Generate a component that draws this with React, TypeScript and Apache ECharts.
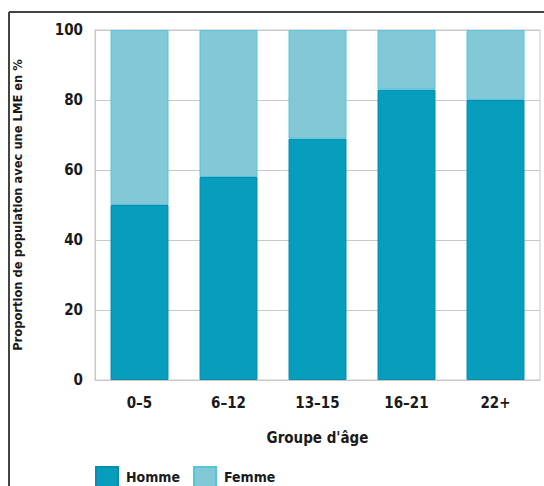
import React, { useEffect, useRef } from "react";
import * as echarts from "echarts";

const categories = ["0–5", "6–12", "13–15", "16–21", "22+"];
const homme = [50, 58, 69, 83, 80];
const femme = [50, 42, 31, 17, 20];
const seriesNames = ["Homme", "Femme"];
const yTicks = [0, 20, 40, 60, 80, 100];

const FONT = "'DejaVu Sans Condensed'";

export default function App() {
  const ref = useRef<HTMLDivElement>(null);
  useEffect(() => {
    document.body.style.margin = "0";
    const chart = echarts.init(ref.current!, null, { renderer: "svg" });
    chart.setOption({
      animation: false,
      backgroundColor: "#ffffff",
      textStyle: { fontFamily: FONT },
      graphic: [
        { type: "line", shape: { x1: 9, y1: 12, x2: 544, y2: 12 }, style: { stroke: "#444", lineWidth: 2 } },
        { type: "line", shape: { x1: 9, y1: 12, x2: 9, y2: 486 }, style: { stroke: "#444", lineWidth: 2 } },
      ],
      grid: {
        left: 95,
        right: 4,
        top: 30,
        bottom: 106,
        show: true,
        borderColor: "#c8c8c8",
        borderWidth: 1,
        containLabel: false,
      },
      legend: {
        data: seriesNames,
        left: 95,
        top: 466,
        padding: 0,
        itemWidth: 22,
        itemHeight: 20,
        itemGap: 13,
        icon: "rect",
        textStyle: { fontFamily: FONT, fontWeight: "bold", fontSize: 14, lineHeight: 14, color: "#1a1a1a", padding: [0, 0, 0, 3] },
      },
      xAxis: {
        type: "category",
        data: categories,
        name: "Groupe d'âge",
        nameLocation: "middle",
        nameGap: 50,
        nameTextStyle: { fontFamily: FONT, fontWeight: "bold", fontSize: 15, color: "#1a1a1a" },
        axisLine: { show: true, lineStyle: { color: "#c8c8c8", width: 1 } },
        axisTick: { show: false },
        axisLabel: { fontFamily: FONT, fontWeight: "bold", fontSize: 15, color: "#1a1a1a", margin: 15 },
      },
      yAxis: {
        type: "value",
        min: 0,
        max: 100,
        interval: 20,
        name: "Proportion de population avec une LME en %",
        nameLocation: "middle",
        nameGap: 71,
        nameTextStyle: { fontFamily: FONT, fontWeight: "bold", fontSize: 12.8, color: "#1a1a1a" },
        axisLine: { show: true, lineStyle: { color: "#c8c8c8", width: 1 } },
        axisTick: { show: false },
        splitLine: { show: true, lineStyle: { color: "#c8c8c8", width: 1 } },
        axisLabel: {
          fontFamily: FONT,
          fontWeight: "bold",
          fontSize: 15,
          color: "#1a1a1a",
          margin: 12,
          formatter: (v: number) => (yTicks.includes(v) ? String(v) : ""),
        },
      },
      series: [
        {
          name: seriesNames[0],
          type: "bar",
          stack: "total",
          data: homme,
          barWidth: 58,
          itemStyle: { color: "#079dbc", borderColor: "#0b8cae", borderWidth: 1 },
        },
        {
          name: seriesNames[1],
          type: "bar",
          stack: "total",
          data: femme,
          barWidth: 58,
          itemStyle: { color: "#83c8d7", borderColor: "#55c4dc", borderWidth: 1 },
        },
      ],
    });
    return () => chart.dispose();
  }, []);
  return <div ref={ref} style={{ position: "fixed", left: 0, top: 0, width: 544, height: 486 }} />;
}
